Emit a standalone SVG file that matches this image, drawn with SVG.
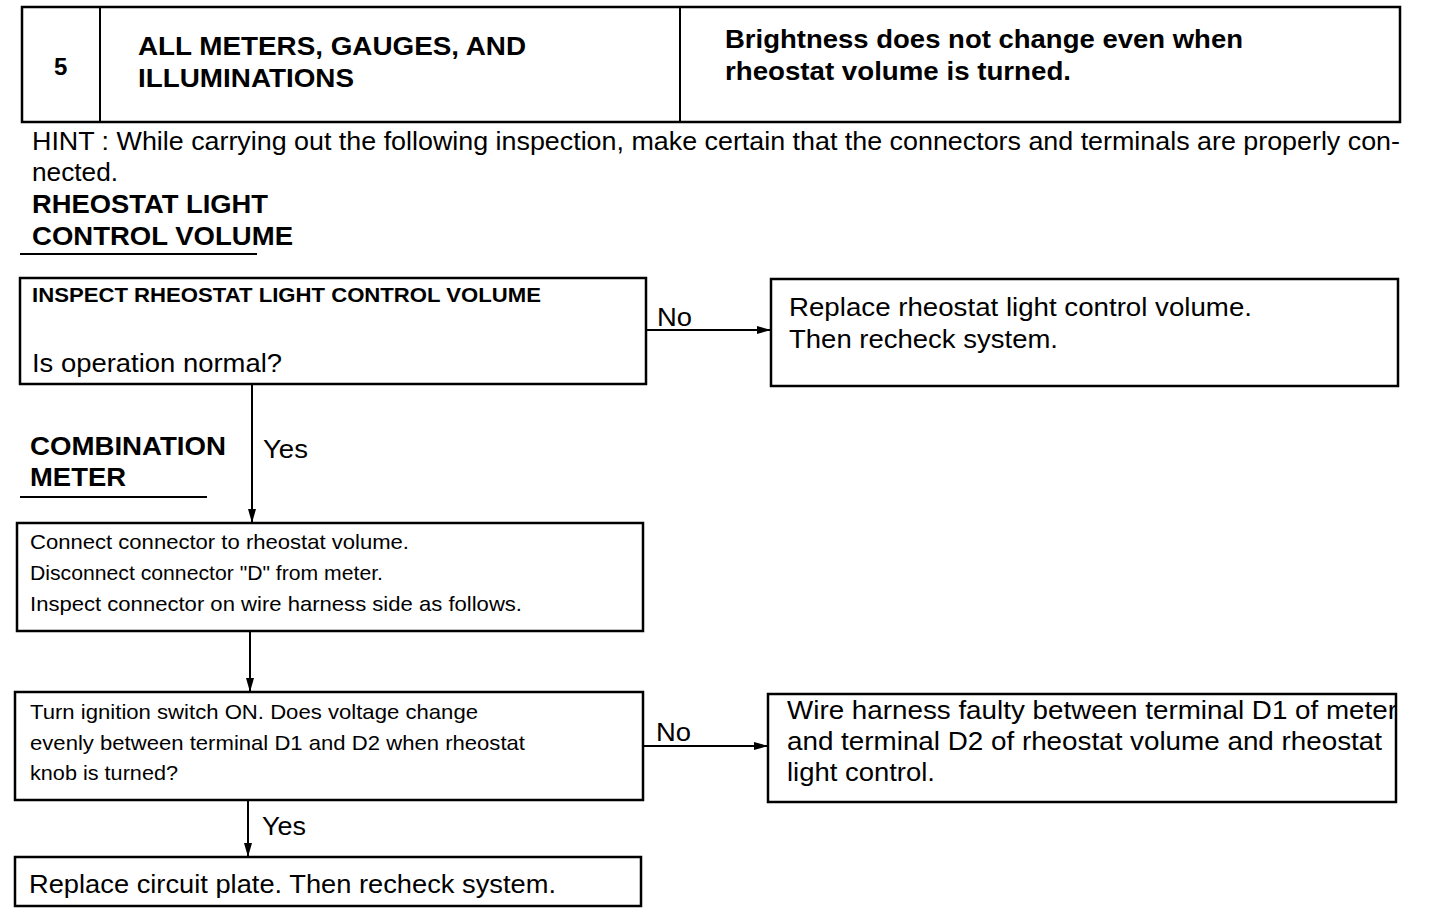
<svg xmlns="http://www.w3.org/2000/svg" width="1440" height="916" viewBox="0 0 1440 916">
<style>
text{font-family:"Liberation Sans",Arial,sans-serif;fill:#000}
.b{font-weight:bold}
.t{font-size:25px}
.s{font-size:21px}
.sb{font-size:20px}
.box{fill:#fff;stroke:#000;stroke-width:2.5}
.ln{stroke:#000;stroke-width:2;fill:none}
</style>
<defs>
<marker id="ah" markerWidth="14" markerHeight="8" refX="13" refY="4" orient="auto" markerUnits="userSpaceOnUse">
<path d="M0,0 L14,4 L0,8 Z" fill="#000"/>
</marker>
</defs>
<rect width="1440" height="916" fill="#fff"/>
<g id="header">
<rect class="box" x="22" y="7" width="1378" height="115"/>
<line class="ln" x1="100" y1="7" x2="100" y2="122"/>
<line class="ln" x1="680" y1="7" x2="680" y2="122"/>
<text class="b" font-size="24" x="54" y="75">5</text>
<text class="b" font-size="25" x="138" y="55" textLength="388" lengthAdjust="spacingAndGlyphs">ALL METERS, GAUGES, AND</text>
<text class="b" font-size="25" x="138" y="87" textLength="216" lengthAdjust="spacingAndGlyphs">ILLUMINATIONS</text>
<text class="b" font-size="25" x="725" y="48" textLength="518" lengthAdjust="spacingAndGlyphs">Brightness does not change even when</text>
<text class="b" font-size="25" x="725" y="80" textLength="346" lengthAdjust="spacingAndGlyphs">rheostat volume is turned.</text>
</g>
<g id="hint">
<text class="t" x="32" y="150" textLength="1368" lengthAdjust="spacingAndGlyphs">HINT : While carrying out the following inspection, make certain that the connectors and terminals are properly con-</text>
<text class="t" x="32" y="181" textLength="86" lengthAdjust="spacingAndGlyphs">nected.</text>
</g>
<g id="section1">
<text class="b t" x="32" y="213" textLength="236" lengthAdjust="spacingAndGlyphs">RHEOSTAT LIGHT</text>
<text class="b t" x="32" y="245" textLength="261" lengthAdjust="spacingAndGlyphs">CONTROL VOLUME</text>
<line class="ln" x1="20" y1="254" x2="257" y2="254"/>
</g>
<g id="section2">
<text class="b t" x="30" y="455" textLength="196" lengthAdjust="spacingAndGlyphs">COMBINATION</text>
<text class="b t" x="30" y="486" textLength="96" lengthAdjust="spacingAndGlyphs">METER</text>
<line class="ln" x1="20" y1="497" x2="207" y2="497"/>
</g>
<g id="connectors">
<line class="ln" x1="646" y1="330" x2="770" y2="330" marker-end="url(#ah)"/>
<text class="t" x="657" y="326" textLength="35" lengthAdjust="spacingAndGlyphs">No</text>
<line class="ln" x1="252" y1="385" x2="252" y2="522" marker-end="url(#ah)"/>
<text class="t" x="263" y="458" textLength="45" lengthAdjust="spacingAndGlyphs">Yes</text>
<line class="ln" x1="250" y1="631" x2="250" y2="691" marker-end="url(#ah)"/>
<line class="ln" x1="643" y1="746" x2="767" y2="746" marker-end="url(#ah)"/>
<text class="t" x="656" y="741" textLength="35" lengthAdjust="spacingAndGlyphs">No</text>
<line class="ln" x1="248" y1="800" x2="248" y2="856" marker-end="url(#ah)"/>
<text class="t" x="262" y="835" textLength="44" lengthAdjust="spacingAndGlyphs">Yes</text>
</g>
<g id="inspect-volume">
<rect class="box" x="20" y="278" width="626" height="106"/>
<text class="b sb" x="32" y="302" textLength="509" lengthAdjust="spacingAndGlyphs">INSPECT RHEOSTAT LIGHT CONTROL VOLUME</text>
<text class="t" x="32" y="372" textLength="250" lengthAdjust="spacingAndGlyphs">Is operation normal?</text>
</g>
<g id="replace-volume">
<rect class="box" x="771" y="279" width="627" height="107"/>
<text class="t" x="789" y="316" textLength="463" lengthAdjust="spacingAndGlyphs">Replace rheostat light control volume.</text>
<text class="t" x="789" y="348" textLength="269" lengthAdjust="spacingAndGlyphs">Then recheck system.</text>
</g>
<g id="connect-connector">
<rect class="box" x="17" y="523" width="626" height="108"/>
<text class="s" x="30" y="549" textLength="379" lengthAdjust="spacingAndGlyphs">Connect connector to rheostat volume.</text>
<text class="s" x="30" y="580" textLength="353" lengthAdjust="spacingAndGlyphs">Disconnect connector "D" from meter.</text>
<text class="s" x="30" y="611" textLength="492" lengthAdjust="spacingAndGlyphs">Inspect connector on wire harness side as follows.</text>
</g>
<g id="check-voltage">
<rect class="box" x="15" y="692" width="628" height="108"/>
<text class="s" x="30" y="719" textLength="448" lengthAdjust="spacingAndGlyphs">Turn ignition switch ON. Does voltage change</text>
<text class="s" x="30" y="750" textLength="495" lengthAdjust="spacingAndGlyphs">evenly between terminal D1 and D2 when rheostat</text>
<text class="s" x="30" y="780" textLength="148" lengthAdjust="spacingAndGlyphs">knob is turned?</text>
</g>
<g id="wire-harness">
<rect class="box" x="768" y="694" width="628" height="108"/>
<text class="t" x="787" y="719" textLength="610" lengthAdjust="spacingAndGlyphs">Wire harness faulty between terminal D1 of meter</text>
<text class="t" x="787" y="750" textLength="595" lengthAdjust="spacingAndGlyphs">and terminal D2 of rheostat volume and rheostat</text>
<text class="t" x="787" y="781" textLength="148" lengthAdjust="spacingAndGlyphs">light control.</text>
</g>
<g id="replace-plate">
<rect class="box" x="15" y="857" width="626" height="49"/>
<text class="t" x="29" y="893" textLength="527" lengthAdjust="spacingAndGlyphs">Replace circuit plate. Then recheck system.</text>
</g>
</svg>
